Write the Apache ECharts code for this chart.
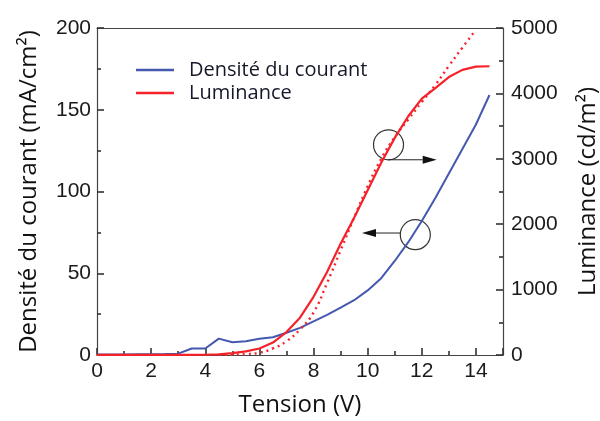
<!DOCTYPE html>
<html>
<head>
<meta charset="utf-8">
<script src="https://cdn.jsdelivr.net/npm/echarts@6/dist/echarts.min.js"></script>
<style>html,body{margin:0;padding:0;background:#fff;}#c{width:600px;height:421px;}</style>
</head>
<body>
<div id="c"></div>
<script>
// Tension (V)
var voltage = [0,0.5,1,1.5,2,2.5,3,3.5,4,4.5,5,5.5,6,6.5,7,7.5,8,8.5,9,9.5,10,10.5,11,11.5,12,12.5,13,13.5,14,14.5];
// Densité du courant (mA/cm2)
var currentDensity = [0.3,0.3,0.3,0.4,0.5,0.6,0.8,4,4,10,7.8,8.4,9.9,10.9,13.6,16.6,20.6,24.5,29,33.5,39.5,47,57.5,69,82,96,111,126,141,159];
// Luminance (cd/m2), measured
var luminance = [2,2,2,2,2,2,2,3,4,10,30,55,100,190,350,570,890,1270,1700,2100,2520,2940,3320,3650,3920,4080,4250,4360,4410,4415];
// Luminance fit (dotted)
var fitVoltage = [4.5,5,5.5,6,6.5,7,7.5,8,8.5,9,9.5,10,10.5,11,11.5,12,12.5,13,13.5,13.9];
var fitLuminance = [0,8,15,35,100,210,390,650,1100,1600,2100,2580,3000,3330,3600,3870,4130,4420,4700,4920];
// axis ticks
var xTicks = {min:0, max:15, interval:2};
var yLeftTicks = {min:0, max:200, interval:50};
var yRightTicks = {min:0, max:5000, interval:1000};
// annotations (data coordinates)
var circleLum = {x:10.77, y:3214, arrowY:2985, arrowTo:12.55};
var circleCur = {x:11.76, y:73.6, arrowY:74.6, arrowFrom:11.2, arrowTo:9.79};

var BLUE = '#4458b0', RED = '#f5222a';
function zip(a,b){return a.map(function(v,i){return [v,b[i]];});}

var chart = echarts.init(document.getElementById('c'), null, {renderer:'canvas'});
function tickLabel(extra){return Object.assign({fontFamily:"'Liberation Sans'", fontSize:21, color:'#1a1a1a'}, extra);}
function axisLine(){return {show:true, onZero:false, lineStyle:{color:'#444', width:1.2}};}
function tick(){return {show:true, inside:true, length:7, lineStyle:{color:'#333', width:1.6}};}
function minor(){return {show:true, splitNumber:2, length:4, lineStyle:{color:'#333', width:1.6}};}
var option = {
  animation:false,
  backgroundColor:'#fff',
  grid:{left:97, right:97, top:28, bottom:66, outerBoundsMode:'none'},
  legend:{
    data:['Densité du courant','Luminance'],
    orient:'vertical', left:131, top:55, itemGap:3,
    icon:'rect', itemWidth:38, itemHeight:2.5,
    textStyle:{fontFamily:'Open Sans', fontSize:20, color:'#16182a', padding:[0,0,0,10]}
  },
  xAxis:[{
    type:'value', min:xTicks.min, max:xTicks.max, interval:xTicks.interval, position:'bottom',
    name:'Tension (V)', nameLocation:'middle', nameGap:38,
    nameTextStyle:{fontFamily:'Open Sans', fontSize:24, color:'#111'},
    axisLine:axisLine(), axisTick:tick(), minorTick:minor(),
    splitLine:{show:false}, minorSplitLine:{show:false},
    axisLabel:tickLabel({margin:6, showMaxLabel:false})
  },{
    type:'value', min:xTicks.min, max:xTicks.max, position:'top',
    axisLine:axisLine(), axisTick:{show:false}, axisLabel:{show:false}, splitLine:{show:false}
  }],
  yAxis:[{
    type:'value', min:yLeftTicks.min, max:yLeftTicks.max, interval:yLeftTicks.interval, position:'left',
    name:'Densité du courant (mA/cm²)', nameLocation:'middle', nameGap:56, nameRotate:90,
    nameTextStyle:{fontFamily:'Open Sans', fontSize:24, color:'#111'},
    axisLine:axisLine(), axisTick:tick(), minorTick:minor(),
    splitLine:{show:false},
    axisLabel:tickLabel({margin:6})
  },{
    type:'value', min:yRightTicks.min, max:yRightTicks.max, interval:yRightTicks.interval, position:'right',
    name:'Luminance (cd/m²)', nameLocation:'middle', nameGap:73, nameRotate:90,
    nameTextStyle:{fontFamily:'Open Sans', fontSize:24, color:'#111'},
    axisLine:axisLine(), axisTick:tick(), minorTick:minor(),
    splitLine:{show:false},
    axisLabel:tickLabel({margin:8, formatter:function(v){return String(v);}})
  }],
  series:[{
    name:'Densité du courant', type:'line', yAxisIndex:0, data:zip(voltage,currentDensity),
    showSymbol:false, smooth:false, color:BLUE, lineStyle:{color:BLUE, width:2}
  },{
    name:'Luminance', type:'line', yAxisIndex:1, data:zip(voltage,luminance),
    showSymbol:false, smooth:false, color:RED, lineStyle:{color:RED, width:2.2}
  },{
    name:'Fit', type:'line', yAxisIndex:1, data:zip(fitVoltage,fitLuminance),
    showSymbol:false, smooth:true, color:RED, lineStyle:{color:RED, width:2.4, type:[2,4]}
  }]
};
chart.setOption(option);

function px(x,y,yi){return chart.convertToPixel({xAxisIndex:0,yAxisIndex:yi},[x,y]);}
function arrow(p0,p1){
  var dir = p1[0]>p0[0]?1:-1;
  var tip = p1[0], base = tip - dir*14;
  return [
    {type:'line', shape:{x1:p0[0],y1:p0[1],x2:base,y2:p1[1]}, style:{stroke:'#222', lineWidth:1}},
    {type:'polygon', shape:{points:[[tip,p1[1]],[base,p1[1]-4],[base,p1[1]+4]]}, style:{fill:'#111'}}
  ];
}
var c1 = px(circleLum.x, circleLum.y, 1);
var a1s = px(circleLum.x, circleLum.arrowY, 1), a1e = px(circleLum.arrowTo, circleLum.arrowY, 1);
var c2 = px(circleCur.x, circleCur.y, 0);
var a2s = px(circleCur.arrowFrom, circleCur.arrowY, 0), a2e = px(circleCur.arrowTo, circleCur.arrowY, 0);
var g = [
  {type:'circle', shape:{cx:c1[0], cy:c1[1], r:15}, style:{fill:null, stroke:'#333', lineWidth:1.2}},
  {type:'circle', shape:{cx:c2[0], cy:c2[1], r:15}, style:{fill:null, stroke:'#333', lineWidth:1.2}}
].concat(arrow(a1s,a1e)).concat(arrow(a2s,a2e));
chart.setOption({graphic:g});
</script>
</body>
</html>
